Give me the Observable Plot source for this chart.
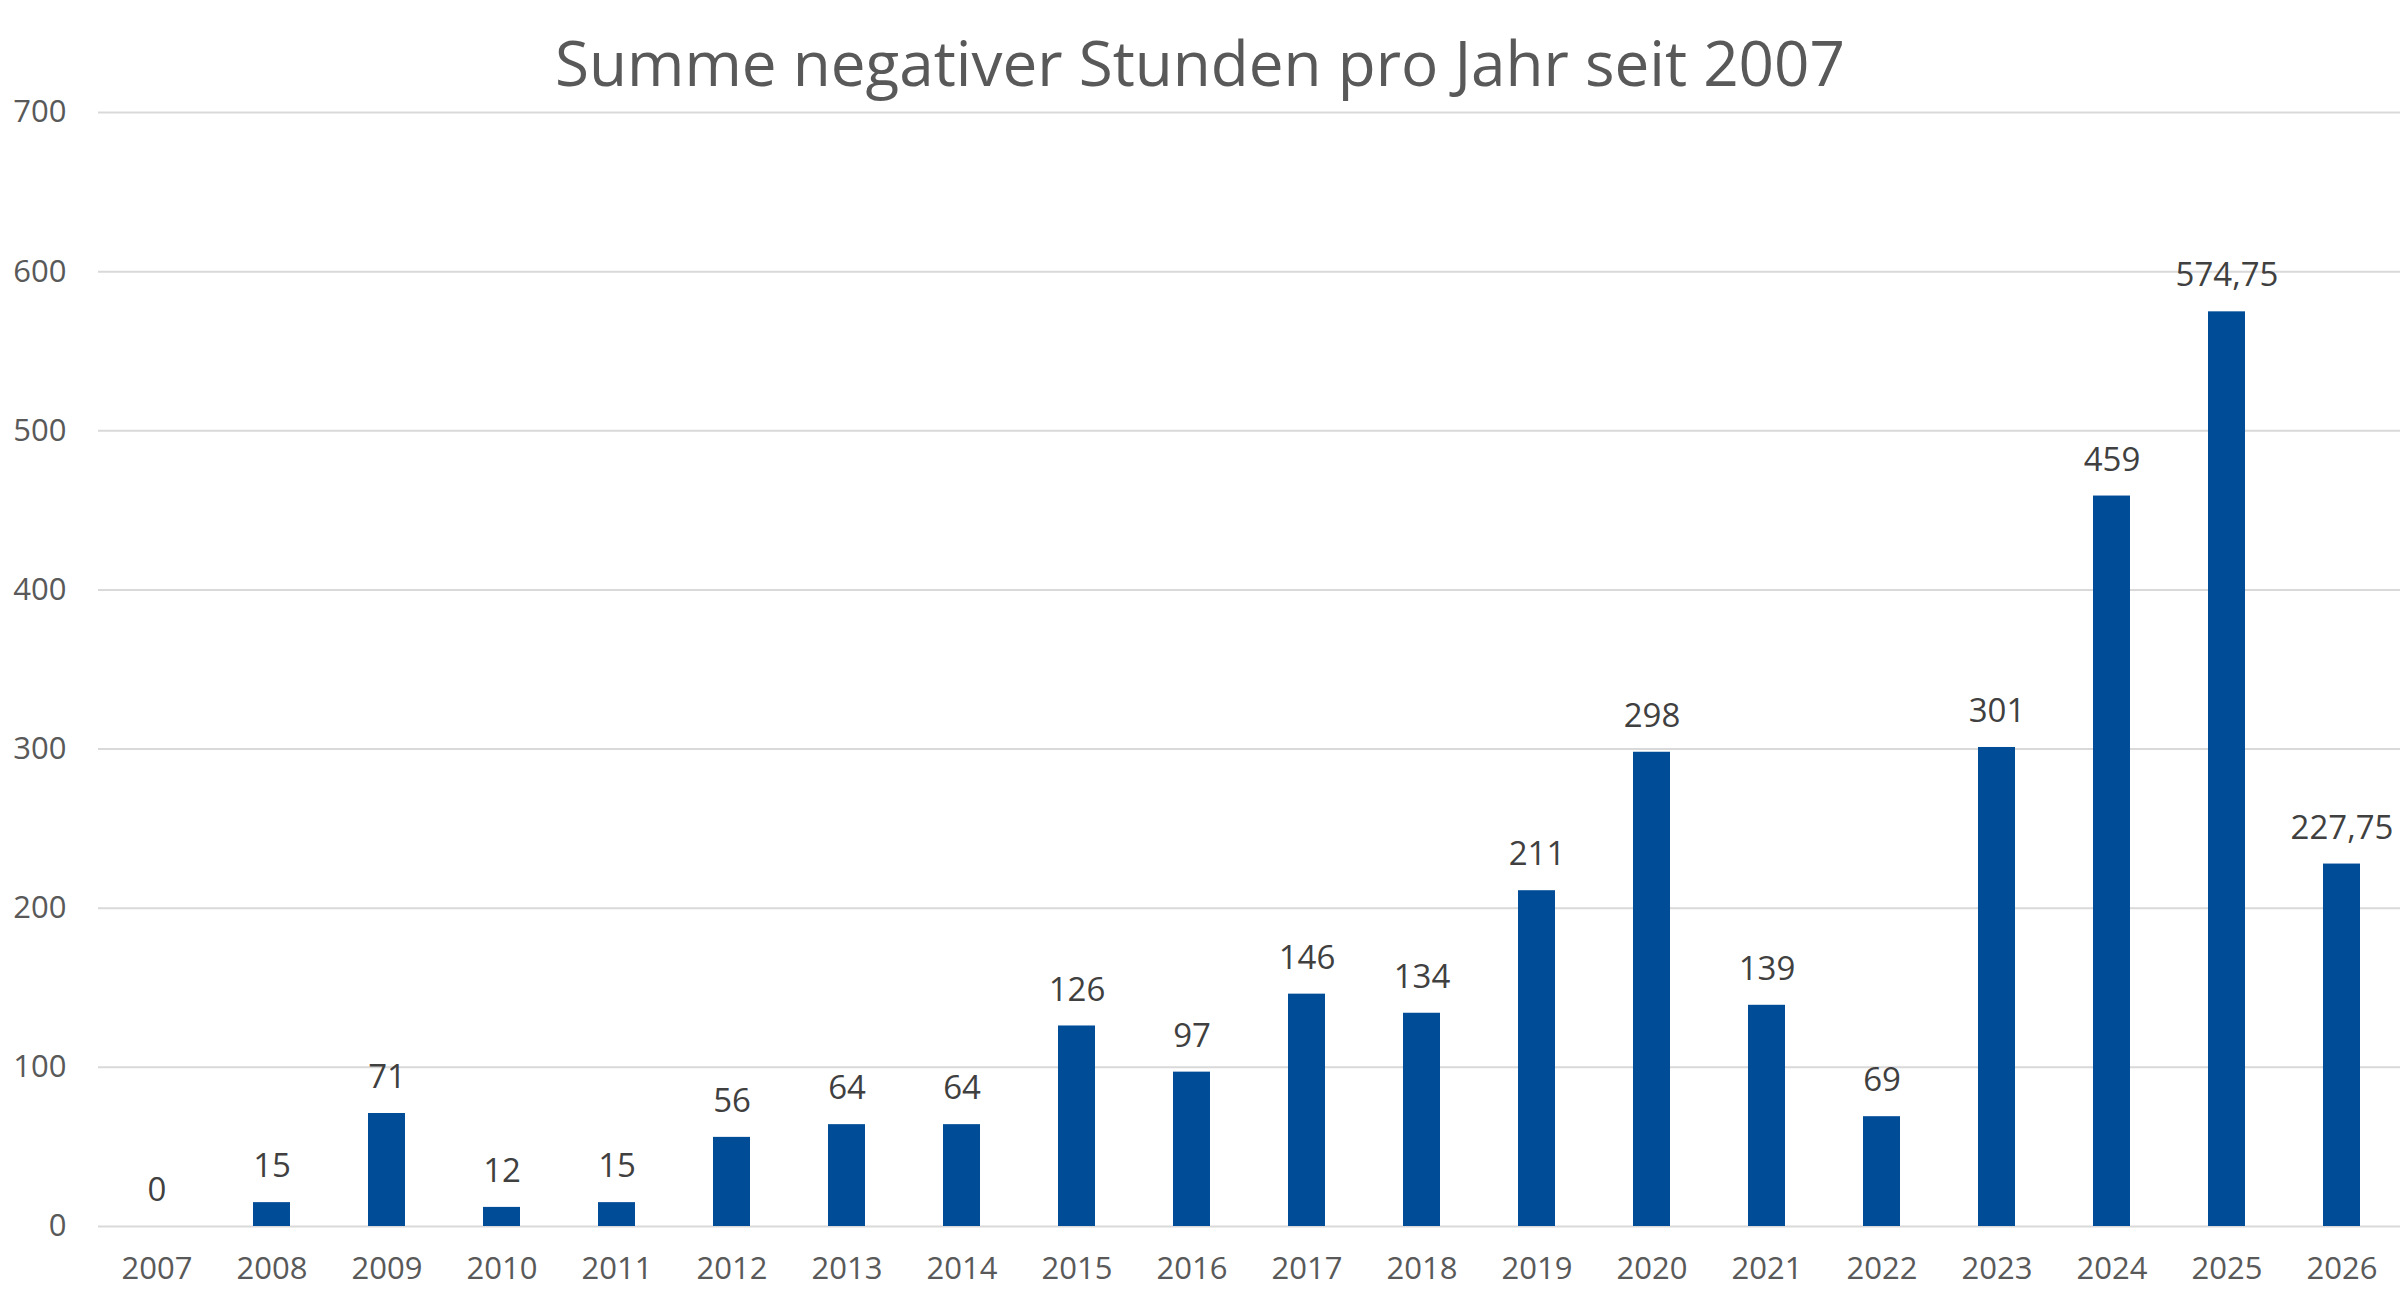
<!DOCTYPE html>
<html><head><meta charset="utf-8">
<script src="https://cdn.jsdelivr.net/npm/d3@7"></script>
<script src="https://cdn.jsdelivr.net/npm/@observablehq/plot@0.6"></script>
<style>
body{margin:0;background:#fff;font-family:"Open Sans",sans-serif;}
#title{height:88px;text-align:center;font-size:62px;color:#595959;line-height:124px;white-space:nowrap;}
</style></head><body>
<div id="title">Summe negativer Stunden pro Jahr seit 2007</div>
<div id="chart"></div>
<script>
const years = ["2007","2008","2009","2010","2011","2012","2013","2014","2015","2016","2017","2018","2019","2020","2021","2022","2023","2024","2025","2026"];
const hours = [0,15,71,12,15,56,64,64,126,97,146,134,211,298,139,69,301,459,574.75,227.75];
const yTicks = [0,100,200,300,400,500,600,700];
const data = years.map((y,i)=>({year:y, value:hours[i]}));
const fmt = v => String(v).replace(".", ",");
const chart = Plot.plot({
  width:2400, height:1210,
  marginTop:24, marginBottom:72, marginLeft:98, marginRight:0,
  style:{fontFamily:"Open Sans, sans-serif", fontSize:"31px", color:"#595959", background:"#fff"},
  x:{domain:years, paddingInner:0.68, paddingOuter:0.34, label:null, tickSize:0, tickPadding:30},
  y:{domain:[0,700], ticks:yTicks, label:null, tickSize:0, tickPadding:32},
  marks:[
    Plot.ruleY(yTicks,{stroke:"#d9d9d9", strokeWidth:2}),
    Plot.barY(data,{x:"year", y:"value", fill:"#004C97"}),
    Plot.text(data,{x:"year", y:"value", text:d=>fmt(d.value), dy:-36, fontSize:33, fill:"#404040"})
  ]
});
document.getElementById("chart").appendChild(chart);
</script>
</body></html>
